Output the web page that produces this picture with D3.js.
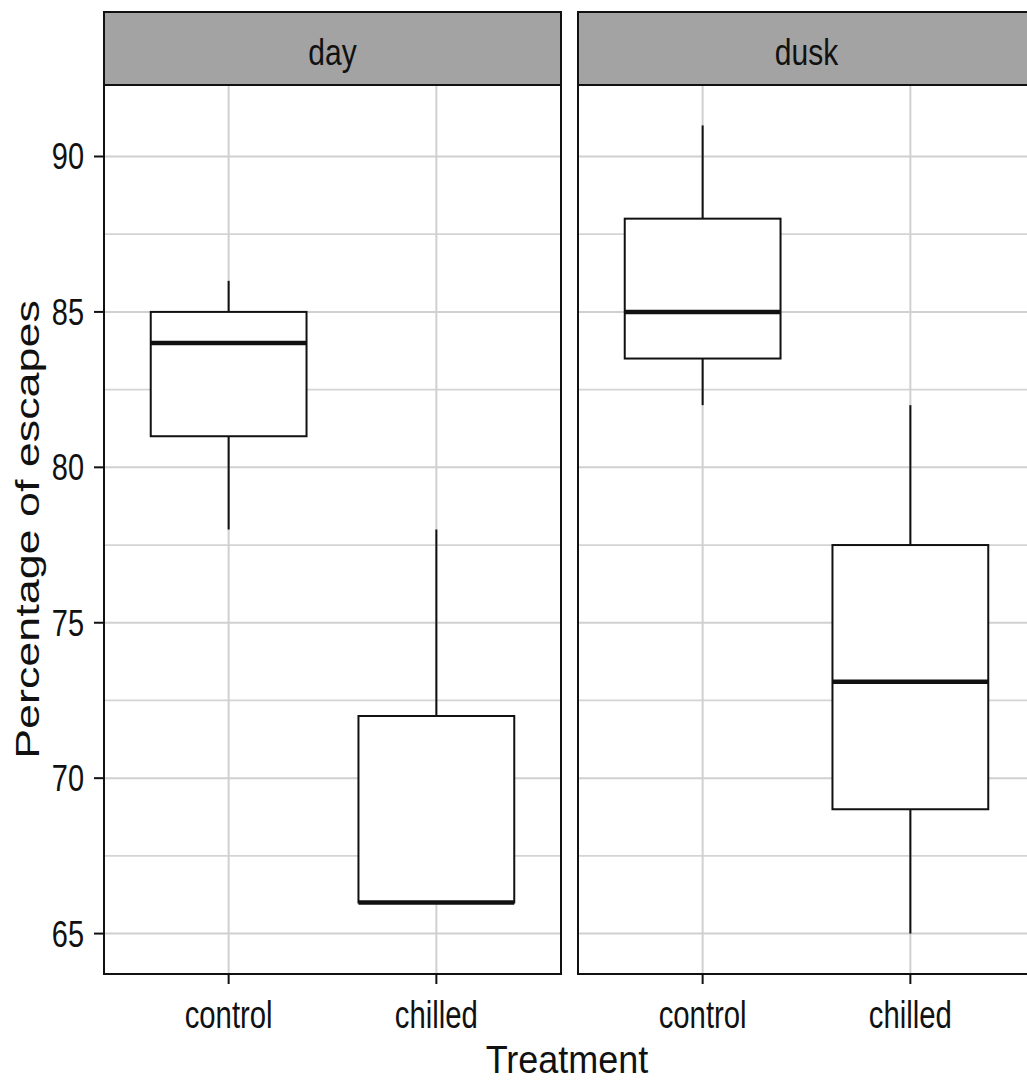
<!DOCTYPE html>
<html><head><meta charset="utf-8">
<script src="https://cdn.jsdelivr.net/npm/d3@7"></script>
<style>html,body{margin:0;padding:0;background:#fff;overflow:hidden}</style>
</head><body>
<script>
// ---- data ----
const facets = ["day", "dusk"];
const treatments = ["control", "chilled"];
// [facet, treatment, lowerWhisker, q1, median, q3, upperWhisker]
const boxFacet = ["day", "day", "dusk", "dusk"];
const boxTreatment = ["control", "chilled", "control", "chilled"];
const whiskerLow = [78, 66, 82, 65];
const q1 = [81, 66, 83.5, 69];
const median = [84, 66, 85, 73.1];
const q3 = [85, 72, 88, 77.5];
const whiskerHigh = [86, 78, 91, 82];
const yTicks = [65, 70, 75, 80, 85, 90];
const yMinor = [67.5, 72.5, 77.5, 82.5, 87.5];
const yTitle = "Percentage of escapes";
const xTitle = "Treatment";

const W = 1027, H = 1084;
const svg = d3.select("body").append("svg").attr("width", W).attr("height", H)
  .style("font-family", "'Liberation Sans', Arial, sans-serif");

const panelTop = 85, panelBottom = 974, stripTop = 12;
const panelW = 457;
const panelX = [104, 578];

const lo = d3.min(whiskerLow), hi = d3.max(whiskerHigh);
const pad = (hi - lo) * 0.05;
const y = d3.scaleLinear().domain([lo - pad, hi + pad]).range([panelBottom, panelTop]);

function stretchedText(g, x, yb, txt, size, sy, anchor, rotate) {
  const t = g.append("g")
    .attr("transform", `translate(${x},${yb})` + (rotate ? ` rotate(${rotate})` : "") + ` scale(${rotate ? sy : 1},${rotate ? 1 : sy})`);
  t.append("text").attr("x", 0).attr("y", 0).attr("text-anchor", anchor)
    .attr("font-size", size).attr("fill", "#111").text(txt);
}

facets.forEach((f, fi) => {
  const x0 = panelX[fi];
  const x = d3.scalePoint().domain(treatments).range([x0, x0 + panelW]).padding(0.6);
  const step = x.step();
  const g = svg.append("g");

  // clip path for panel
  const cid = "clip" + fi;
  svg.append("clipPath").attr("id", cid).append("rect")
    .attr("x", x0).attr("y", panelTop).attr("width", panelW).attr("height", panelBottom - panelTop);
  const pg = g.append("g").attr("clip-path", `url(#${cid})`);

  // grid
  pg.selectAll(".minor").data(yMinor).join("line")
    .attr("x1", x0).attr("x2", x0 + panelW).attr("y1", d => y(d)).attr("y2", d => y(d))
    .attr("stroke", "#d4d4d4").attr("stroke-width", 1.8);
  pg.selectAll(".major").data(yTicks).join("line")
    .attr("x1", x0).attr("x2", x0 + panelW).attr("y1", d => y(d)).attr("y2", d => y(d))
    .attr("stroke", "#d0d0d0").attr("stroke-width", 2);
  pg.selectAll(".vg").data(treatments).join("line")
    .attr("x1", d => x(d)).attr("x2", d => x(d)).attr("y1", panelTop).attr("y2", panelBottom)
    .attr("stroke", "#d0d0d0").attr("stroke-width", 2);

  // boxes
  const idx = d3.range(boxFacet.length).filter(i => boxFacet[i] === f);
  idx.forEach(i => {
    const cx = x(boxTreatment[i]);
    const bw = step * 0.75;
    pg.append("line").attr("x1", cx).attr("x2", cx)
      .attr("y1", y(whiskerHigh[i])).attr("y2", y(q3[i]))
      .attr("stroke", "#111").attr("stroke-width", 2);
    pg.append("line").attr("x1", cx).attr("x2", cx)
      .attr("y1", y(q1[i])).attr("y2", y(whiskerLow[i]))
      .attr("stroke", "#111").attr("stroke-width", 2);
    pg.append("rect").attr("x", cx - bw / 2).attr("width", bw)
      .attr("y", y(q3[i])).attr("height", y(q1[i]) - y(q3[i]))
      .attr("fill", "#fff").attr("stroke", "#111").attr("stroke-width", 2);
    pg.append("line").attr("x1", cx - bw / 2).attr("x2", cx + bw / 2)
      .attr("y1", y(median[i])).attr("y2", y(median[i]))
      .attr("stroke", "#111").attr("stroke-width", 4.5);
  });

  // panel border
  g.append("rect").attr("x", x0).attr("y", panelTop).attr("width", panelW).attr("height", panelBottom - panelTop)
    .attr("fill", "none").attr("stroke", "#111").attr("stroke-width", 2);

  // strip
  g.append("rect").attr("x", x0).attr("y", stripTop).attr("width", panelW).attr("height", panelTop - stripTop)
    .attr("fill", "#a3a3a3").attr("stroke", "#111").attr("stroke-width", 2);
  stretchedText(g, x0 + panelW / 2, 65, f, 30, 1.22, "middle");

  // x axis ticks + labels
  treatments.forEach(t => {
    g.append("line").attr("x1", x(t)).attr("x2", x(t)).attr("y1", panelBottom).attr("y2", panelBottom + 10)
      .attr("stroke", "#111").attr("stroke-width", 2);
    stretchedText(g, x(t), 1028, t, 29.3, 1.3, "middle");
  });
});

// y axis (left panel only)
const ya = svg.append("g");
yTicks.forEach(v => {
  ya.append("line").attr("x1", panelX[0] - 10).attr("x2", panelX[0]).attr("y1", y(v)).attr("y2", y(v))
    .attr("stroke", "#111").attr("stroke-width", 2);
  stretchedText(ya, panelX[0] - 20, y(v) + 13, String(v), 29, 1.26, "end");
});

// axis titles
stretchedText(svg, 567, 1073, xTitle, 36, 1.08, "middle");
stretchedText(svg, 39, (panelTop + panelBottom) / 2, yTitle, 32.5, 1.38, "middle", -90);
</script>
</body></html>
